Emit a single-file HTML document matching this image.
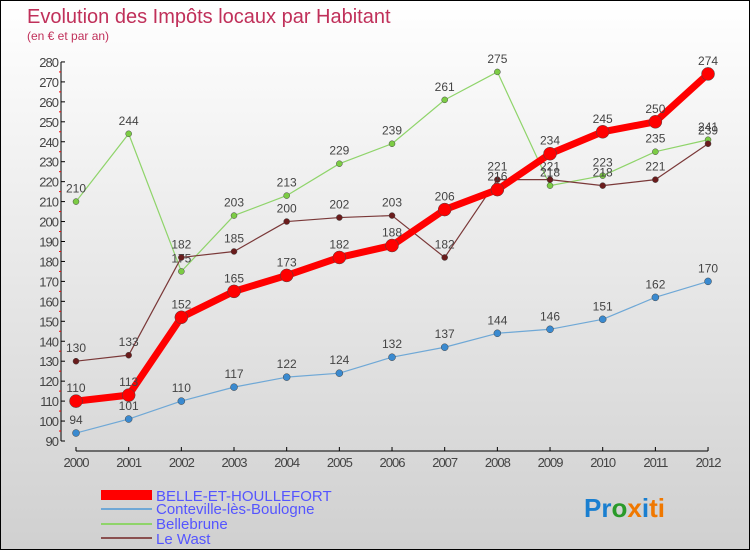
<!DOCTYPE html>
<html><head><meta charset="utf-8"><style>
body{margin:0;width:750px;height:550px;overflow:hidden;font-family:"Liberation Sans",sans-serif}
#wrap{position:relative;width:748px;height:548px;border:1px solid #000;background:linear-gradient(#fff,#d0d0d0)}
</style></head><body>
<div id="wrap">
<svg id="chart" width="748" height="548">
<text x="26" y="22" font-size="20" fill="#c0305a">Evolution des Impôts locaux par Habitant</text>
<text x="26" y="39" font-size="12" fill="#c0305a">(en € et par an)</text>
<g id="axes"></g><g id="series"></g>
<g font-size="15" fill="#5555ff">
<rect x="100" y="489" width="51" height="10" fill="#f00"/>
<text x="155" y="500">BELLE-ET-HOULLEFORT</text>
<rect x="100" y="507" width="51" height="2" fill="#6fa8d6"/>
<text x="155" y="513">Conteville-lès-Boulogne</text>
<rect x="100" y="522" width="51" height="2" fill="#8fd46a"/>
<text x="155" y="528">Bellebrune</text>
<rect x="100" y="536" width="51" height="2" fill="#8a5050"/>
<text x="155" y="543">Le Wast</text>
</g>
<text x="583" y="516" font-size="26" font-weight="bold"><tspan fill="#1a7fd0">Pr</tspan><tspan fill="#2a9a2a">o</tspan><tspan fill="#f07800">x</tspan><tspan fill="#1a7fd0">i</tspan><tspan fill="#f07800">ti</tspan></text>
</svg></div>
<script>
const years=[2000,2001,2002,2003,2004,2005,2006,2007,2008,2009,2010,2011,2012];
const belle=[110,113,152,165,173,182,188,206,216,234,245,250,274];
const conteville=[94,101,110,117,122,124,132,137,144,146,151,162,170];
const bellebrune=[210,244,175,203,213,229,239,261,275,218,223,235,241];
const lewast=[130,133,182,185,200,202,203,182,221,221,218,221,239];
const yTicks=[90,100,110,120,130,140,150,160,170,180,190,200,210,220,230,240,250,260,270,280];
const NS="http://www.w3.org/2000/svg";
const xS=i=>75+i*52.67, yS=v=>440-(v-90)*1.995;
function mk(t,a,p){const e=document.createElementNS(NS,t);for(const k in a)e.setAttribute(k,a[k]);p.appendChild(e);return e;}
const ax=document.getElementById('axes'), sg=document.getElementById('series');
let l=mk('line',{x1:60,y1:yS(280),x2:60,y2:yS(90),stroke:'#000'},ax);


l=mk('line',{x1:75,y1:450,x2:707,y2:450,stroke:'#000'},ax);


yTicks.forEach(v=>{mk('line',{x1:60,y1:yS(v),x2:64,y2:yS(v),stroke:'#000'},ax);
 if(v<280)mk('line',{x1:58,y1:yS(v+5),x2:60,y2:yS(v+5),stroke:'#f00'},ax);
 const t=mk('text',{x:57,y:yS(v)+5,'text-anchor':'end','font-size':13,fill:'#444','letter-spacing':'-1'},ax);t.textContent=v;
 
 });
years.forEach((y,i)=>{mk('line',{x1:xS(i),y1:446,x2:xS(i),y2:450,stroke:'#000'},ax);
 const t=mk('text',{x:xS(i),y:466,'text-anchor':'middle','font-size':13,fill:'#444','letter-spacing':'-1'},ax);t.textContent=y;
 
 });
function draw(d,c,w,r,name,mc){
 const p=mk('polyline',{points:d.map((v,i)=>xS(i)+','+yS(v)).join(' '),fill:'none',stroke:c,'stroke-width':w,'stroke-linejoin':'round'},sg);
 
 
 d.forEach((v,i)=>{const m=mk('circle',{cx:xS(i),cy:yS(v),r:r,fill:mc,stroke:'#444','stroke-width':0.5},sg);
  
  
  const t=mk('text',{x:xS(i),y:yS(v)-9,'text-anchor':'middle','font-size':12,fill:'#444'},sg);t.textContent=v;
  
  });
}
draw(bellebrune,'#8fd46a',1.2,3,'bellebrune','#7ccc44');
draw(lewast,'#7a3838',1.2,3,'lewast','#6a1c1c');
draw(conteville,'#6fa8d6',1.2,3.5,'conteville','#3a8ad0');
draw(belle,'#f00',7,6.5,'belle','#f00');
</script></body></html>
